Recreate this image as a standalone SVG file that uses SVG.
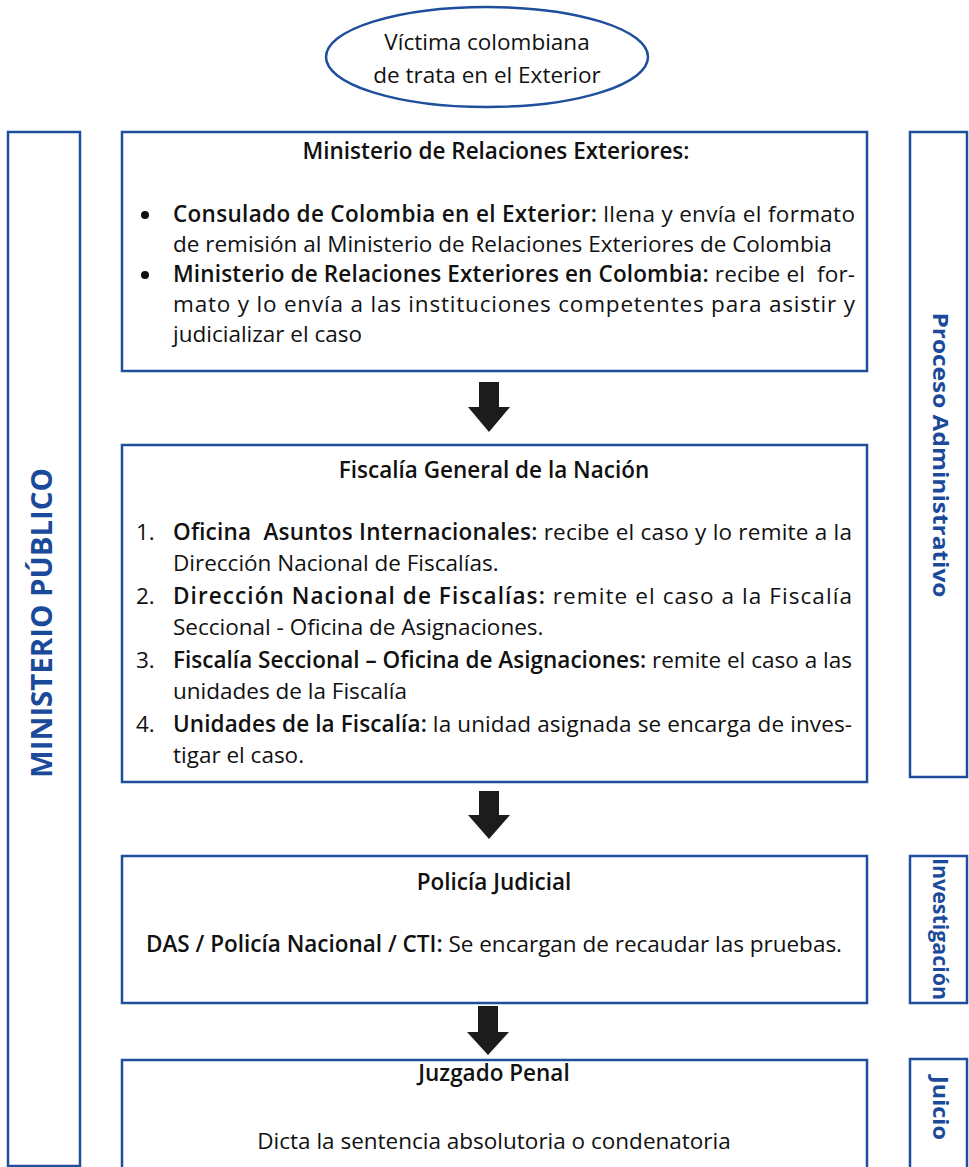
<svg xmlns="http://www.w3.org/2000/svg" width="969" height="1167" viewBox="0 0 969 1167">
<style>
.box{fill:#fff;stroke:#1f4e9c;stroke-width:2.5}
.t{font-family:"Open Sans","Liberation Sans",sans-serif;font-size:22.5px;fill:#111}
.c{text-anchor:middle}
.b{font-weight:600}
.dot{fill:#111}
.side{font-family:"Open Sans","Liberation Sans",sans-serif;font-weight:700;fill:#1b4a9a;text-anchor:middle}
.arrow{fill:#1c1c1c}
</style>
<rect width="969" height="1167" fill="#fff"/>

<g id="victima">
<ellipse class="box" cx="487" cy="57" rx="161" ry="50"/>
<text class="t c" x="487" y="50" font-size="23">Víctima colombiana</text>
<text class="t c" x="487" y="83" font-size="23">de trata en el Exterior</text>
</g>

<g id="ministerio-publico">
<rect class="box" x="8" y="132" width="72" height="1034"/>
<text class="side" transform="translate(52,623) rotate(-90)" font-size="28" textLength="310" lengthAdjust="spacingAndGlyphs" font-weight="600">MINISTERIO PÚBLICO</text>
</g>

<g id="proceso-administrativo">
<rect class="box" x="910" y="132" width="57" height="645"/>
<text class="side" transform="translate(933,455) rotate(90)" font-size="22" textLength="285" lengthAdjust="spacingAndGlyphs">Proceso Administrativo</text>
</g>

<g id="investigacion">
<rect class="box" x="910" y="856" width="57" height="147"/>
<text class="side" transform="translate(933,929) rotate(90)" font-size="22" textLength="142" lengthAdjust="spacingAndGlyphs">Investigación</text>
</g>

<g id="juicio">
<rect class="box" x="910" y="1059" width="57" height="120"/>
<text class="side" transform="translate(933,1108) rotate(90)" font-size="22" textLength="64" lengthAdjust="spacingAndGlyphs">Juicio</text>
</g>

<g id="relaciones-exteriores">
<rect class="box" x="122" y="132" width="745" height="239"/>
<text class="t c b" x="496" y="159">Ministerio de Relaciones Exteriores:</text>
<circle class="dot" cx="145" cy="215" r="4"/>
<text class="t" x="173" y="222" textLength="682" lengthAdjust="spacing"><tspan class="b">Consulado de Colombia en el Exterior:</tspan> llena y envía el formato</text>
<text class="t" x="173" y="252">de remisión al Ministerio de Relaciones Exteriores de Colombia</text>
<circle class="dot" cx="145" cy="275" r="4"/>
<text class="t" x="173" y="282" textLength="682" lengthAdjust="spacing"><tspan class="b">Ministerio de Relaciones Exteriores en Colombia:</tspan> recibe el&#160; for-</text>
<text class="t" x="173" y="312" textLength="682" lengthAdjust="spacing">mato y lo envía a las instituciones competentes para asistir y</text>
<text class="t" x="173" y="342">judicializar el caso</text>
</g>

<g id="fiscalia">
<rect class="box" x="122" y="445" width="745" height="337"/>
<text class="t c b" x="494" y="478">Fiscalía General de la Nación</text>
<text class="t" x="136" y="540">1.</text>
<text class="t" x="173" y="540" textLength="679" lengthAdjust="spacing"><tspan class="b">Oficina&#160; Asuntos Internacionales:</tspan> recibe el caso y lo remite a la</text>
<text class="t" x="173" y="571">Dirección Nacional de Fiscalías.</text>
<text class="t" x="136" y="604">2.</text>
<text class="t" x="173" y="604" textLength="679" lengthAdjust="spacing"><tspan class="b">Dirección Nacional de Fiscalías:</tspan> remite el caso a la Fiscalía</text>
<text class="t" x="173" y="635">Seccional - Oficina de Asignaciones.</text>
<text class="t" x="136" y="668">3.</text>
<text class="t" x="173" y="668" textLength="679" lengthAdjust="spacing"><tspan class="b">Fiscalía Seccional – Oficina de Asignaciones:</tspan> remite el caso a las</text>
<text class="t" x="173" y="699">unidades de la Fiscalía</text>
<text class="t" x="136" y="732">4.</text>
<text class="t" x="173" y="732" textLength="679" lengthAdjust="spacing"><tspan class="b">Unidades de la Fiscalía:</tspan> la unidad asignada se encarga de inves-</text>
<text class="t" x="173" y="763">tigar el caso.</text>
</g>

<g id="policia-judicial">
<rect class="box" x="122" y="856" width="745" height="147"/>
<text class="t c b" x="494" y="890">Policía Judicial</text>
<text class="t c" x="494" y="952"><tspan class="b">DAS / Policía Nacional / CTI:</tspan> Se encargan de recaudar las pruebas.</text>
</g>

<g id="juzgado-penal">
<rect class="box" x="122" y="1060" width="745" height="120"/>
<text class="t c b" x="494" y="1081">Juzgado Penal</text>
<text class="t c" x="494" y="1149">Dicta la sentencia absolutoria o condenatoria</text>
</g>

<g id="connectors">
<polygon class="arrow" points="479,382 499,382 499,407 510,407 489,432 468,407 479,407"/>
<polygon class="arrow" points="479,791 499,791 499,815 510,815 489,839 468,815 479,815"/>
<polygon class="arrow" points="478,1006 498,1006 498,1032 509,1032 488,1055 467,1032 478,1032"/>
</g>
</svg>
